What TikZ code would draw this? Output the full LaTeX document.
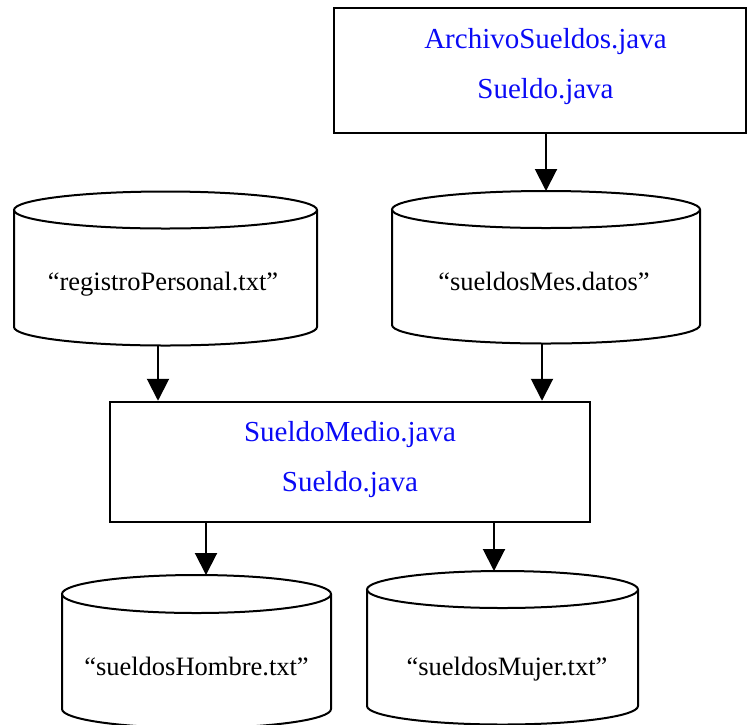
\documentclass[tikz,border=0pt]{standalone}
\usepackage{fontspec}
\setmainfont{Liberation Serif}
\usetikzlibrary{arrows.meta}
\definecolor{codeblue}{RGB}{10,10,245}
\tikzset{
  box/.style={draw, line width=2.5pt, rectangle, inner sep=0pt},
  cyl/.style={draw, line width=2pt},
  codetxt/.style={text=codeblue, font=\fontsize{29}{33}\selectfont, anchor=base, inner sep=0pt},
  datatxt/.style={font=\fontsize{26.5}{30}\selectfont, anchor=base, inner sep=0pt},
  arr/.style={line width=2pt, -{Triangle[width=22pt,length=22pt]}}
}
\newcommand{\dbcyl}[5]{% cx rx yT yB ry
  \draw[cyl] ({#1-#2},#3) -- ({#1-#2},#4) arc[start angle=180,end angle=360,x radius=#2pt,y radius=#5pt] -- ({#1+#2},#3);
  \draw[cyl] (#1,#3) ellipse[x radius=#2pt,y radius=#5pt];
}
\begin{document}
\begin{tikzpicture}[x=1pt,y=-1pt]
\path[use as bounding box] (0,0) rectangle (749,724);
\clip (0,0) rectangle (749,724);
% top box
\node[box, minimum width=412pt, minimum height=125pt] (top) at (540,70.5) {};
\node[codetxt] (t1) at (545.5,48) {ArchivoSueldos.java};
\node[codetxt] (t2) at (545.5,98) {Sueldo.java};
% cylinders
\dbcyl{165.5}{151.5}{210}{327}{18.5}
\node[datatxt] (reg) at (163,290) {“registroPersonal.txt”};
\dbcyl{546}{154}{209.5}{325}{18.5}
\node[datatxt] (mes) at (544,290) {“sueldosMes.datos”};
% middle box
\node[box, minimum width=480pt, minimum height=120pt] (mid) at (350,462) {};
\node[codetxt] (m1) at (350,441) {SueldoMedio.java};
\node[codetxt] (m2) at (350,491) {Sueldo.java};
% bottom cylinders
\dbcyl{196.5}{134.5}{594}{709}{19}
\node[datatxt] (hom) at (196.5,675) {“sueldosHombre.txt”};
\dbcyl{502.5}{135.5}{589.5}{706}{18.5}
\node[datatxt] (muj) at (507,675) {“sueldosMujer.txt”};
% connector endpoints on cylinders
\coordinate (mesTop) at (546,191);
\coordinate (regBot) at (158,345);
\coordinate (mesBot) at (542,343.5);
\coordinate (homTop) at (206,575);
\coordinate (mujTop) at (494,571);
% connectors
\draw[arr] (mesTop |- top.south) -- (mesTop);
\draw[arr] (regBot) -- (regBot |- mid.north);
\draw[arr] (mesBot) -- (mesBot |- mid.north);
\draw[arr] (homTop |- mid.south) -- (homTop);
\draw[arr] (mujTop |- mid.south) -- (mujTop);
\end{tikzpicture}
\end{document}
